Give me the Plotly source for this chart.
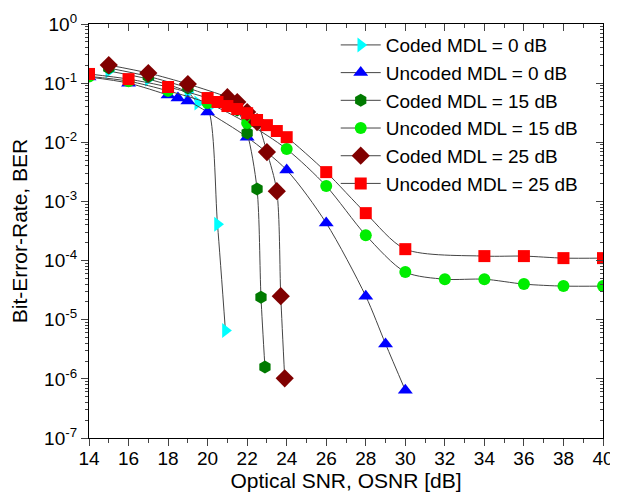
import plotly.graph_objects as go

# ---- data ----
c0_x = [15, 17, 19, 19.5, 20, 20.5, 20.9]
c0_y = [0.16, 0.117, 0.07, 0.046, 0.038, 4.1e-4, 6.6e-6]

u0_x = [14, 16, 18, 18.5, 19, 20, 22, 24, 26, 28, 29, 30]
u0_y = [0.127, 0.100, 0.063, 0.056, 0.050, 0.0324, 0.0122, 0.00339, 4.3e-4, 2.5e-5, 3.9e-6, 6.4e-7]

c15_x = [15, 17, 19, 21, 21.5, 22, 22.5, 22.7, 22.9]
c15_y = [0.18, 0.13, 0.083, 0.046, 0.035, 0.0143, 0.00162, 2.4e-5, 1.58e-6]

u15_x = [14, 16, 18, 20, 22, 24, 26, 28, 30, 32, 34, 36, 38, 40]
u15_y = [0.13, 0.108, 0.074, 0.046, 0.0211, 0.00767, 0.00182, 2.69e-4, 6.4e-5, 4.84e-5, 4.84e-5, 4.0e-5, 3.7e-5, 3.7e-5]

c25_x = [15, 17, 19, 21, 21.5, 22, 22.5, 23, 23.5, 23.7, 23.9]
c25_y = [0.202, 0.148, 0.0966, 0.058, 0.048, 0.0324, 0.022, 0.00683, 0.00149, 2.5e-5, 1.02e-6]

u25_x = [14, 16, 18, 20, 20.5, 21, 21.5, 22, 22.5, 23, 23.5, 24, 26, 28, 30, 34, 36, 38, 40]
u25_y = [0.143, 0.117, 0.086, 0.056, 0.048, 0.041, 0.0365, 0.031, 0.0238, 0.0195, 0.0155, 0.0122,
         0.00313, 6.34e-4, 1.56e-4, 1.19e-4, 1.19e-4, 1.10e-4, 1.10e-4]

names = ["Coded MDL = 0 dB", "Uncoded MDL = 0 dB", "Coded MDL = 15 dB",
         "Uncoded MDL = 15 dB", "Coded MDL = 25 dB", "Uncoded MDL = 25 dB"]

y_tickvals = [1e0, 1e-1, 1e-2, 1e-3, 1e-4, 1e-5, 1e-6, 1e-7]
y_ticktext = ["10<sup>0</sup>", "10<sup>-1</sup>", "10<sup>-2</sup>", "10<sup>-3</sup>",
              "10<sup>-4</sup>", "10<sup>-5</sup>", "10<sup>-6</sup>", "10<sup>-7</sup>"]

series = [
    (c0_x, c0_y, "triangle-right", "#00FFFF", 13),
    (u0_x, u0_y, "triangle-up", "#0000FF", 13),
    (c15_x, c15_y, "hexagon", "#007A00", 13),
    (u15_x, u15_y, "circle", "#00EE00", 12),
    (c25_x, c25_y, "diamond", "#800000", 14),
    (u25_x, u25_y, "square", "#FF0000", 12),
]

fig = go.Figure()
for (xs, ys, sym, col, sz), nm in zip(series, names):
    fig.add_trace(go.Scatter(
        x=xs, y=ys, name=nm, mode="lines+markers",
        line=dict(color="#444444", width=1, shape="spline", smoothing=0.8),
        marker=dict(symbol=sym, color=col, size=sz, line=dict(width=0)),
    ))

# invisible trace for the mirrored (top/right) axes
fig.add_trace(go.Scatter(x=[14, 40], y=[1e-7, 1], xaxis="x2", yaxis="y2",
                         mode="markers", marker=dict(opacity=0), showlegend=False,
                         hoverinfo="skip"))

font = "Liberation Sans, Arial, sans-serif"
fig.update_layout(
    width=610, height=490,
    margin=dict(l=81, r=15, t=16, b=60),
    paper_bgcolor="white", plot_bgcolor="white",
    font=dict(family=font, size=19, color="black"),
    showlegend=True,
    legend=dict(x=0.48, y=0.995, xanchor="left", yanchor="top",
                bgcolor="rgba(255,255,255,0)", font=dict(size=19),
                tracegroupgap=0, itemwidth=40),
    xaxis=dict(range=[14, 40], dtick=2, tick0=14, ticks="outside", ticklen=7,
               tickwidth=1.3, linecolor="black", linewidth=1.3, showline=True,
               showgrid=False, zeroline=False, automargin=False,
               ticklabelstandoff=-4,
               minor=dict(dtick=1, ticks="outside", ticklen=4, tickwidth=1),
               title=dict(text="Optical SNR, OSNR [dB]", font=dict(size=21), standoff=0),
               tickfont=dict(size=19)),
    yaxis=dict(type="log", range=[-7, 0], tickvals=y_tickvals, ticktext=y_ticktext,
               ticks="outside", ticklen=7, tickwidth=1.3, linecolor="black",
               linewidth=1.3, showline=True, showgrid=False, zeroline=False,
               automargin=False,
               minor=dict(dtick="D1", ticks="outside", ticklen=3, tickwidth=1),
               title=dict(text="Bit-Error-Rate, BER", font=dict(size=21), standoff=12),
               tickfont=dict(size=19)),
    xaxis2=dict(overlaying="x", side="top", range=[14, 40], dtick=2, tick0=14,
                ticks="inside", ticklen=7, tickwidth=1.3, showticklabels=False,
                showline=True, linecolor="black", linewidth=1.3, showgrid=False,
                zeroline=False, automargin=False,
                minor=dict(dtick=1, ticks="inside", ticklen=4, tickwidth=1)),
    yaxis2=dict(overlaying="y", side="right", type="log", range=[-7, 0],
                tickvals=y_tickvals, ticks="inside", ticklen=7, tickwidth=1.3,
                showticklabels=False, showline=True, linecolor="black", linewidth=1.3,
                showgrid=False, zeroline=False, automargin=False,
                minor=dict(dtick="D1", ticks="inside", ticklen=3, tickwidth=1)),
)

fig.write_html("out.html")
